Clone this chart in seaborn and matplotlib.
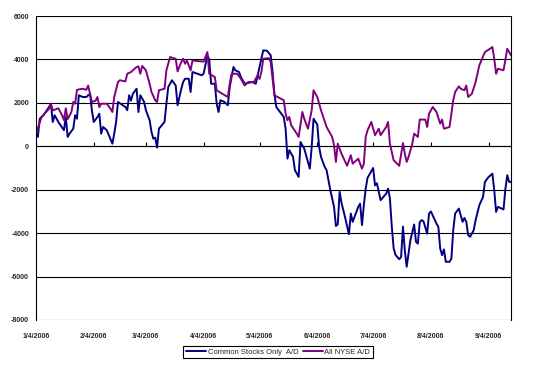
import matplotlib
matplotlib.use("Agg")
import matplotlib.pyplot as plt
import matplotlib.dates as mdates
import pandas as pd
import seaborn as sns

# All NYSE A/D (purple)
nyse_dates = [
    "2006-01-04", "2006-01-07", "2006-01-11", "2006-01-12", "2006-01-13", "2006-01-16",
    "2006-01-18", "2006-01-19", "2006-01-20", "2006-01-21", "2006-01-23", "2006-01-24",
    "2006-01-25", "2006-01-26", "2006-01-29", "2006-01-31", "2006-02-01", "2006-02-03",
    "2006-02-05", "2006-02-06", "2006-02-07", "2006-02-08", "2006-02-11", "2006-02-13",
    "2006-02-14", "2006-02-15", "2006-02-17", "2006-02-18", "2006-02-21", "2006-02-22",
    "2006-02-24", "2006-02-27", "2006-02-28", "2006-03-01", "2006-03-02", "2006-03-04",
    "2006-03-06", "2006-03-07", "2006-03-09", "2006-03-10", "2006-03-11", "2006-03-14",
    "2006-03-15", "2006-03-17", "2006-03-20", "2006-03-21", "2006-03-23", "2006-03-24",
    "2006-03-25", "2006-03-26", "2006-03-28", "2006-03-29", "2006-04-04", "2006-04-06",
    "2006-04-07", "2006-04-10", "2006-04-11", "2006-04-14", "2006-04-17", "2006-04-18",
    "2006-04-19", "2006-04-22", "2006-04-24", "2006-04-26", "2006-04-28", "2006-05-01",
    "2006-05-03", "2006-05-04", "2006-05-05", "2006-05-06", "2006-05-09", "2006-05-10",
    "2006-05-12", "2006-05-17", "2006-05-18", "2006-05-19", "2006-05-20", "2006-05-21",
    "2006-05-24", "2006-05-25", "2006-05-27", "2006-05-28", "2006-05-30", "2006-06-01",
    "2006-06-02", "2006-06-04", "2006-06-06", "2006-06-09", "2006-06-12", "2006-06-13",
    "2006-06-14", "2006-06-15", "2006-06-17", "2006-06-20", "2006-06-22", "2006-06-23",
    "2006-06-26", "2006-06-28", "2006-06-29", "2006-06-30", "2006-07-01", "2006-07-03",
    "2006-07-05", "2006-07-07", "2006-07-08", "2006-07-11", "2006-07-12", "2006-07-13",
    "2006-07-15", "2006-07-18", "2006-07-20", "2006-07-21", "2006-07-22", "2006-07-23",
    "2006-07-25", "2006-07-26", "2006-07-28", "2006-07-29", "2006-08-01", "2006-08-02",
    "2006-08-03", "2006-08-05", "2006-08-07", "2006-08-09", "2006-08-10", "2006-08-11",
    "2006-08-14", "2006-08-16", "2006-08-17", "2006-08-19", "2006-08-20", "2006-08-22",
    "2006-08-23", "2006-08-24", "2006-08-26", "2006-08-28", "2006-08-30", "2006-09-02",
    "2006-09-04", "2006-09-06", "2006-09-07", "2006-09-08", "2006-09-09", "2006-09-12",
    "2006-09-14", "2006-09-15", "2006-09-16",
]
nyse_values = [
    580, 1350, 1730, 1960, 1650, 1750,
    1430, 1200, 1750, 1250, 1580, 2040,
    1960, 2600, 2650, 2600, 2800, 2040,
    2100, 2270, 1800, 1960, 1960, 1730,
    1580, 2270, 2960, 3040, 2990, 3340,
    3420, 3650, 3680, 3340, 3700, 3500,
    2880, 2500, 2120, 2040, 2580, 2650,
    3500, 4110, 4030, 3450, 3880, 4030,
    3800, 3950, 3500, 3950, 3900, 4340,
    3340, 3190, 2580, 2420, 2270, 2880,
    3340, 3340, 3110, 2800, 2960, 2960,
    3270, 3100, 3420, 4030, 4060, 3880,
    2350, 2120, 1500, 1200, 1350, 970,
    580, 430, 1580, 1270, 810, 1660,
    2580, 2270, 1660, 890, 430, 50,
    -720, 120, -340, -900, -410, -800,
    -570, -1030, -800, 430, 740, 1120,
    510, 810, 510, 890, 1120, 120,
    -640, -900, 150, -340, -720, -490,
    120, 580, 430, 1230, 1230, 890,
    1500, 1810, 1580, 1040, 1230, 810,
    890, 2120, 2500, 2760, 2650, 2580,
    2800, 2270, 2420, 2960, 3730, 4340,
    4450, 4570, 4030, 3340, 3570, 3500,
    4490, 4340, 4190,
]

# Common Stocks Only A/D (navy)
common_dates = [
    "2006-01-04", "2006-01-05", "2006-01-06", "2006-01-08", "2006-01-11", "2006-01-12",
    "2006-01-13", "2006-01-14", "2006-01-16", "2006-01-19", "2006-01-20", "2006-01-21",
    "2006-01-22", "2006-01-24", "2006-01-25", "2006-01-26", "2006-01-27", "2006-01-29",
    "2006-01-31", "2006-02-02", "2006-02-03", "2006-02-04", "2006-02-06", "2006-02-07",
    "2006-02-08", "2006-02-09", "2006-02-11", "2006-02-14", "2006-02-15", "2006-02-16",
    "2006-02-17", "2006-02-21", "2006-02-22", "2006-02-23", "2006-02-24", "2006-02-25",
    "2006-02-27", "2006-02-28", "2006-03-01", "2006-03-03", "2006-03-04", "2006-03-06",
    "2006-03-07", "2006-03-08", "2006-03-09", "2006-03-10", "2006-03-11", "2006-03-14",
    "2006-03-15", "2006-03-16", "2006-03-18", "2006-03-20", "2006-03-21", "2006-03-23",
    "2006-03-24", "2006-03-25", "2006-03-27", "2006-03-28", "2006-03-29", "2006-04-03",
    "2006-04-04", "2006-04-06", "2006-04-07", "2006-04-08", "2006-04-10", "2006-04-11",
    "2006-04-12", "2006-04-13", "2006-04-15", "2006-04-17", "2006-04-18", "2006-04-20",
    "2006-04-21", "2006-04-23", "2006-04-24", "2006-04-26", "2006-04-30", "2006-05-02",
    "2006-05-03", "2006-05-06", "2006-05-08", "2006-05-10", "2006-05-11", "2006-05-12",
    "2006-05-13", "2006-05-15", "2006-05-17", "2006-05-18", "2006-05-19", "2006-05-20",
    "2006-05-22", "2006-05-23", "2006-05-25", "2006-05-26", "2006-05-28", "2006-05-30",
    "2006-05-31", "2006-06-01", "2006-06-02", "2006-06-04", "2006-06-05", "2006-06-06",
    "2006-06-08", "2006-06-09", "2006-06-10", "2006-06-11", "2006-06-13", "2006-06-14",
    "2006-06-15", "2006-06-16", "2006-06-17", "2006-06-19", "2006-06-21", "2006-06-22",
    "2006-06-23", "2006-06-24", "2006-06-26", "2006-06-27", "2006-06-28", "2006-06-29",
    "2006-06-30", "2006-07-01", "2006-07-04", "2006-07-05", "2006-07-06", "2006-07-08",
    "2006-07-11", "2006-07-12", "2006-07-13", "2006-07-14", "2006-07-15", "2006-07-16",
    "2006-07-18", "2006-07-19", "2006-07-20", "2006-07-21", "2006-07-22", "2006-07-23",
    "2006-07-24", "2006-07-26", "2006-07-27", "2006-07-28", "2006-07-29", "2006-07-30",
    "2006-07-31", "2006-08-02", "2006-08-03", "2006-08-04", "2006-08-07", "2006-08-08",
    "2006-08-09", "2006-08-10", "2006-08-11", "2006-08-12", "2006-08-14", "2006-08-15",
    "2006-08-16", "2006-08-17", "2006-08-19", "2006-08-21", "2006-08-22", "2006-08-23",
    "2006-08-24", "2006-08-25", "2006-08-27", "2006-08-28", "2006-08-30", "2006-09-01",
    "2006-09-02", "2006-09-04", "2006-09-06", "2006-09-07", "2006-09-08", "2006-09-09",
    "2006-09-12", "2006-09-13", "2006-09-14", "2006-09-15", "2006-09-16",
]
common_values = [
    580, 430, 1270, 1430, 1810, 1960,
    1120, 1430, 1120, 740, 1350, 430,
    580, 810, 1430, 1270, 2350, 2270,
    2270, 2420, 1660, 1120, 1350, 1500,
    580, 890, 740, 120, 580, 1120,
    2040, 1810, 1660, 2350, 2100, 2420,
    2650, 1580, 2350, 2050, 1660, 1200,
    660, 350, 400, -60, 810, 1120,
    1960, 2730, 3040, 2800, 1890, 2650,
    2960, 3110, 3110, 2500, 3420, 3270,
    3350, 4190, 4000, 2880, 2880, 1960,
    1580, 2120, 2050, 1890, 2730, 3650,
    3500, 3420, 3190, 2880, 2960, 2880,
    3270, 4420, 4400, 4190, 3420, 2400,
    1810, 1580, 1350, 810, -570, -180,
    -490, -1100, -1410, 200, -110, -720,
    -1030, -30, 1270, 1000, -30, -490,
    -950, -1100, -1560, -2020, -2790, -3670,
    -3600, -2100, -2600, -3300, -4050, -3100,
    -3480, -3250, -2790, -2640, -3630, -2710,
    -1950, -1450, -1000, -1800, -1700, -2480,
    -2180, -1950, -2400, -3700, -4700, -5000,
    -5200, -5100, -3700, -4800, -5550, -4950,
    -4320, -3600, -4400, -4480, -3500, -3400,
    -3450, -4020, -3100, -3000, -3560, -3710,
    -4710, -5010, -4750, -5320, -5320, -5170,
    -3860, -3100, -2870, -3480, -3300, -3480,
    -4090, -4170, -3860, -3400, -2710, -2330,
    -1640, -1410, -1260, -2020, -3020, -2790,
    -2910, -1950, -1330, -1640, -1640,
]

series_names = ["Common Stocks Only  A/D", "All NYSE A/D"]
series_colors = ["#000080", "#800080"]

y_ticks = [6000, 4000, 2000, 0, -2000, -4000, -6000, -8000]
x_tick_dates = ["2006-01-04", "2006-02-04", "2006-03-04", "2006-04-04", "2006-05-04",
                "2006-06-04", "2006-07-04", "2006-08-04", "2006-09-04"]
x_tick_labels = ["1/4/2006", "2/4/2006", "3/4/2006", "4/4/2006", "5/4/2006",
                 "6/4/2006", "7/4/2006", "8/4/2006", "9/4/2006"]

df = pd.concat([
    pd.DataFrame({"date": pd.to_datetime(common_dates), "value": common_values,
                  "series": series_names[0]}),
    pd.DataFrame({"date": pd.to_datetime(nyse_dates), "value": nyse_values,
                  "series": series_names[1]}),
])

sns.set_style("white")
plt.rcParams["font.family"] = ["Liberation Sans", "DejaVu Sans"]

fig = plt.figure(figsize=(5.4, 3.71), dpi=100)
ax = fig.add_axes([36 / 540, 1 - 320 / 371, 475 / 540, 304 / 371])

sns.lineplot(data=df, x="date", y="value", hue="series", hue_order=series_names,
             palette=series_colors, estimator=None, linewidth=1.4, ax=ax)

ymin, ymax = -8000, 6000
ax.set_ylim(ymin, ymax)
ax.set_xlim(pd.Timestamp("2006-01-04"), pd.Timestamp("2006-09-16"))
ax.set_yticks(y_ticks)
ax.set_yticklabels([str(v) for v in y_ticks], fontsize=5, fontweight="bold")
ax.yaxis.grid(True, color="black", linewidth=0.8)
ax.set_axisbelow(True)

tick_nums = mdates.date2num(pd.to_datetime(x_tick_dates))
ax.set_xticks(tick_nums)
ax.set_xticklabels(x_tick_labels, fontsize=5, fontweight="bold")
ax.tick_params(axis="x", length=0, pad=9)
ax.tick_params(axis="y", length=3, width=0.8, color="black", direction="out", pad=2)
ax.set_xlabel("")
ax.set_ylabel("")

for side in ["left", "right"]:
    ax.spines[side].set_visible(True)
    ax.spines[side].set_color("black")
    ax.spines[side].set_linewidth(0.8)
ax.spines["top"].set_visible(False)
ax.spines["bottom"].set_visible(False)

# category axis crossing at zero, tick marks only
zero_frac = (0 - ymin) / (ymax - ymin)
sec = ax.secondary_xaxis(zero_frac)
sec.set_xticks(tick_nums)
sec.set_xticklabels([])
sec.tick_params(axis="x", length=3, width=0.8, color="black", direction="out")
sec.spines["bottom"].set_color("black")
sec.spines["bottom"].set_linewidth(0.8)

handles, labels = ax.get_legend_handles_labels()
leg = ax.legend(handles, labels, loc="center", bbox_to_anchor=(0.515, 0.051),
                bbox_transform=fig.transFigure, ncol=2, frameon=True, fancybox=False,
                edgecolor="black", framealpha=1, fontsize=5.5, handlelength=2.6,
                handletextpad=0.2, columnspacing=0.6, borderpad=0.35)
leg.get_frame().set_linewidth(0.8)

fig.savefig("out.png", dpi=100, facecolor="white")
